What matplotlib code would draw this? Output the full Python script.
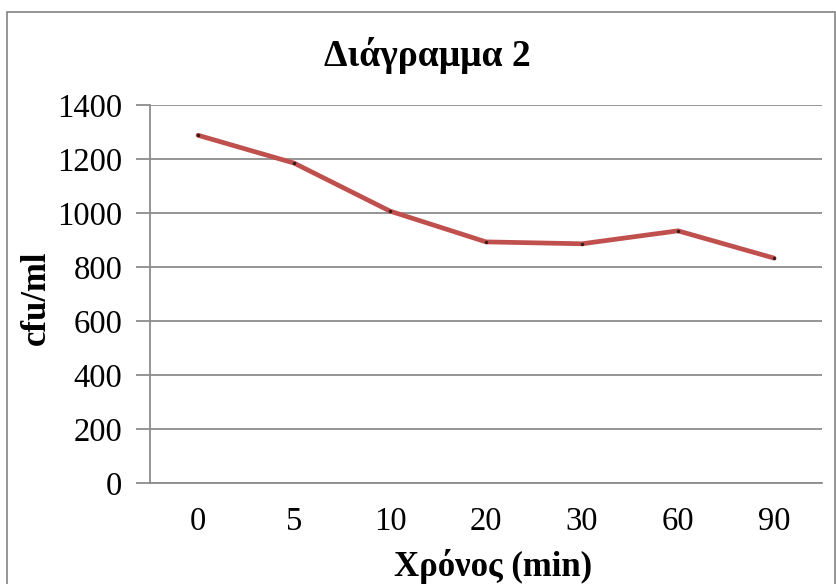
import matplotlib
matplotlib.use('Agg')
import matplotlib.pyplot as plt
from matplotlib.patches import Rectangle

# data
times = ['0', '5', '10', '20', '30', '60', '90']
cfu = [1288, 1185, 1007, 893, 886, 934, 833]
yticks = [0, 200, 400, 600, 800, 1000, 1200, 1400]

plt.rcParams['font.family'] = ['Liberation Serif', 'DejaVu Serif']

fig = plt.figure(figsize=(8.37, 5.84), dpi=100)
ax = fig.add_axes([150/837, 101/584, 672/837, 378/584])

x = list(range(len(times)))
ax.plot(x, cfu, color='#C0504D', lw=3.4, solid_capstyle='round', zorder=3)
ax.plot(x, cfu, ls='none', marker='o', ms=1.5, color='#3a1a1a', zorder=4)

ax.set_xlim(-0.5, len(times) - 0.5)
ax.set_ylim(0, 1400)
ax.set_yticks(yticks)
ax.set_xticks(x)
ax.set_xticklabels(times)
ax.grid(axis='y', color='#8c8c8c', lw=1.3)
ax.set_axisbelow(True)

for s in ['top', 'right']:
    ax.spines[s].set_visible(False)
ax.spines['left'].set_color('#8c8c8c')
ax.spines['bottom'].set_color('#8c8c8c')
ax.spines['left'].set_linewidth(1.3)
ax.spines['bottom'].set_linewidth(1.3)
ax.tick_params(axis='y', length=10, width=1.3, color='#8c8c8c', labelsize=23.5, pad=10)
ax.tick_params(axis='x', length=0, labelsize=23.5, pad=17)

fig.text(427/837, 1 - 55/584, 'Διάγραμμα 2', ha='center', va='center',
         fontsize=27, fontweight='bold')
fig.text(36/837, 1 - 298/584, 'cfu/ml', ha='center', va='center',
         rotation=90, fontsize=25, fontweight='bold')
fig.text(493/837, 1 - 566/584, 'Χρόνος (min)', ha='center', va='center',
         fontsize=25, fontweight='bold')

# outer chart border
fig.patches.append(Rectangle((7/837, -0.01), 828/837, 1 - 12/584 + 0.01,
                             transform=fig.transFigure, fill=False,
                             edgecolor='#8c8c8c', lw=1.3))

fig.savefig('out.png', dpi=100)
